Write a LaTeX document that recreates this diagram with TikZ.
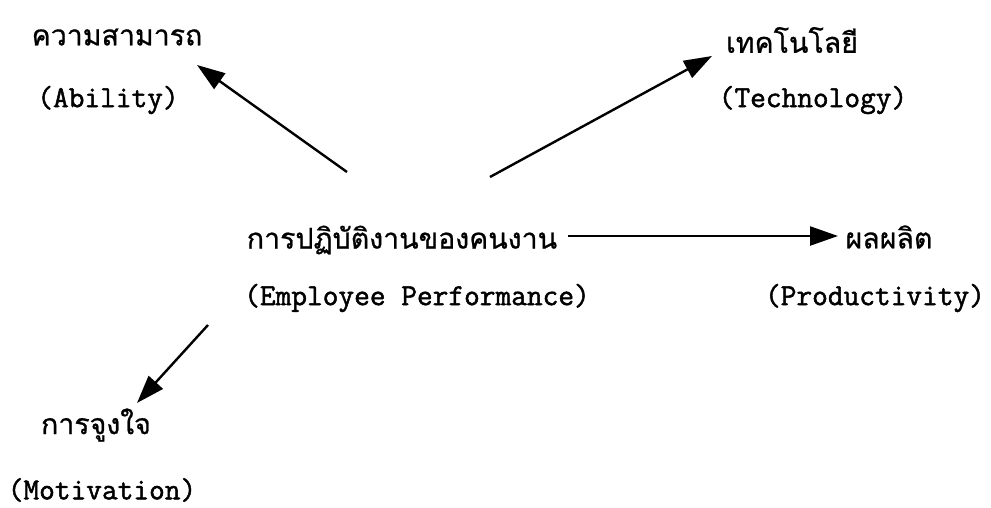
\documentclass[tikz,border=0pt]{standalone}
\usepackage{fontspec}
\newfontfamily\thaifont[Script=Thai,FakeBold=0.8]{Loma}
\newfontfamily\latfont[FakeBold=1.6]{Latin Modern Mono}
\usetikzlibrary{arrows.meta}
\begin{document}
\begin{tikzpicture}[x=1pt,y=-1pt,
  thai/.style={font=\thaifont\fontsize{28.5}{32}\selectfont, inner sep=0pt},
  eng/.style={font=\latfont\fontsize{30.5}{34}\selectfont, inner sep=0pt},
  arr/.style={line width=2.4pt, -{Triangle[length=28pt,width=19pt]}}]
\useasboundingbox[fill=white] (0,0) rectangle (991,508);
% labels
\node[thai] (abilT) at (117,37) {ความสามารถ};
\node[eng]  (abilE) at (108,100) {(Ability)};
\node[thai] (techT) at (792,40) {เทคโนโลยี};
\node[eng]  (techE) at (813,100) {(Technology)};
\node[thai] (perfT) at (402,240) {การปฏิบัติงานของคนงาน};
\node[eng]  (perfE) at (417,298) {(Employee Performance)};
\node[thai] (prodT) at (889,237) {ผลผลิต};
\node[eng]  (prodE) at (875,298) {(Productivity)};
\node[thai] (motT)  at (96,425) {การจูงใจ};
\node[eng]  (motE)  at (102,490) {(Motivation)};
% connector ends
\coordinate (a1) at (347,172);
\coordinate (a2) at (197,65);
\coordinate (t1) at (490,177);
\coordinate (t2) at (712,56);
\coordinate (p1) at (568,236);
\coordinate (p2) at (838,236);
\coordinate (m1) at (208,325);
\coordinate (m2) at (137,403);
\draw[arr] (a1) -- (a2);
\draw[arr] (t1) -- (t2);
\draw[arr] (p1) -- (p2);
\draw[arr] (m1) -- (m2);
\end{tikzpicture}
\end{document}
